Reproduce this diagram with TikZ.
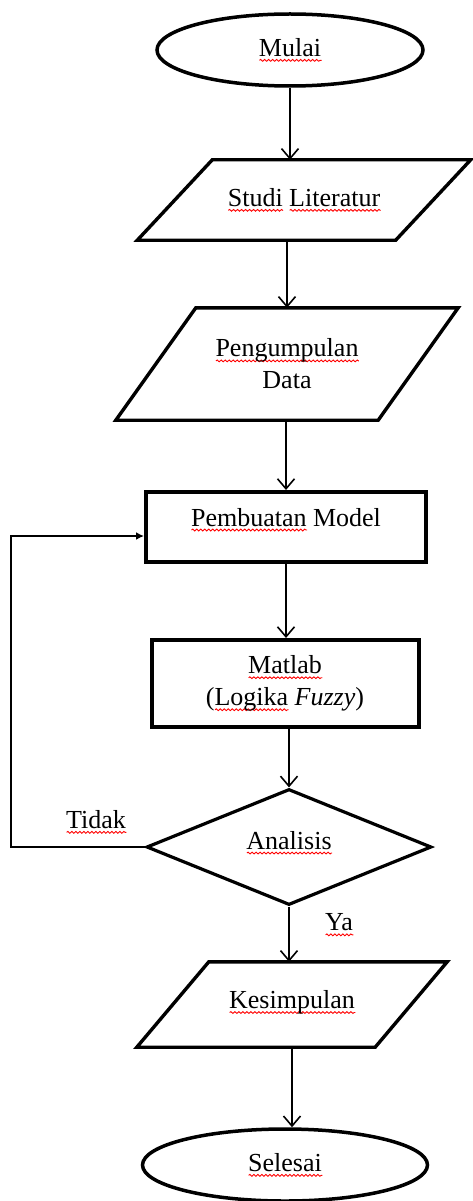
\documentclass[tikz,border=0pt]{standalone}
\usepackage{fontspec}
\setmainfont{Liberation Serif}
\usepackage{xcolor}
\usetikzlibrary{shapes.geometric,arrows.meta,decorations.pathmorphing}
\newsavebox\sqbox
\newlength\sqw
\newcommand\sq[1]{\sbox\sqbox{#1}\setlength\sqw{\wd\sqbox}%
  \rlap{\tikz[baseline=0pt,x=1pt,y=1pt]\draw[red,line width=0.9pt,decorate,decoration={snake,amplitude=0.9pt,segment length=4pt}] (0,-4) -- (\sqw,-4);}\usebox\sqbox}
\newcommand\drawpara[2]{%
  \draw[parline] ([xshift=#2/2]#1.north west) -- ([xshift=#2/2]#1.north east)
    -- ([xshift=-#2/2]#1.south east) -- ([xshift=-#2/2]#1.south west) -- cycle;}
\begin{document}
\begin{tikzpicture}[x=1pt,y=-1pt,
  every node/.style={font=\fontsize{26}{32}\selectfont, inner sep=0pt, align=center},
  term/.style={draw, ellipse, line width=3.5pt},
  procbox/.style={draw, rectangle, line width=4pt},
  iobox/.style={rectangle},
  decide/.style={draw, diamond, line width=3.2pt},
  parline/.style={line width=3.4pt, line join=miter},
  flow/.style={line width=1.6pt, -{Straight Barb[length=10pt,width=17pt,line width=1.6pt]}},
  backflow/.style={line width=1.6pt, -{Latex[length=8pt,width=8pt]}}]
\useasboundingbox (0,0) rectangle (473,1201);

\node[term, minimum width=266pt, minimum height=72pt] (mulai) at (290,50) {\sq{Mulai}};

\node[iobox, minimum width=258pt, minimum height=80pt] (studi) at (304,200) {\sq{Studi} \sq{Literatur}};
\drawpara{studi}{75}

\node[iobox, minimum width=262pt, minimum height=112pt] (peng) at (287,364) {\sq{Pengumpulan}\\Data};
\drawpara{peng}{80}

\node[procbox, minimum width=280pt, minimum height=70pt] (pemb) at (286,527) {\sq{Pembuatan} Model\rule[-20pt]{0pt}{0pt}};

\node[procbox, minimum width=267pt, minimum height=87pt] (matlab) at (285,683.5) {\sq{Matlab}\\(\sq{Logika} \textit{Fuzzy})};

\node[decide, minimum width=285pt, minimum height=116pt, shape aspect=2.46] (analisis) at (289,847) {\sq{Analisis}\rule[-14pt]{0pt}{0pt}};

\node[iobox, minimum width=238pt, minimum height=85pt] (kes) at (292,1004.5) {\sq{Kesimpulan}\rule[-10pt]{0pt}{0pt}};
\drawpara{kes}{72}

\node[term, minimum width=285pt, minimum height=72pt] (selesai) at (285,1165) {\sq{Selesai}};

\node (tidak) at (96,822) {\sq{Tidak}};
\node (ya) at (339,925) {\sq{Ya}};

\draw[flow] (mulai.south) -- (mulai.south |- studi.north);
\draw[flow] (peng.north |- studi.south) -- (peng.north);
\draw[flow] (pemb.north |- peng.south) -- (pemb.north);
\draw[flow] (pemb.south) -- (pemb.south |- matlab.north);
\draw[flow] (analisis.north |- matlab.south) -- (analisis.north);
\draw[flow] (analisis.south) -- (analisis.south |- kes.north);
\draw[flow] (kes.south) -- (kes.south |- selesai.north);

\coordinate (back) at (11,536);
\draw[backflow] (analisis.west) -| (back) -- (back -| pemb.west);
\end{tikzpicture}
\end{document}
